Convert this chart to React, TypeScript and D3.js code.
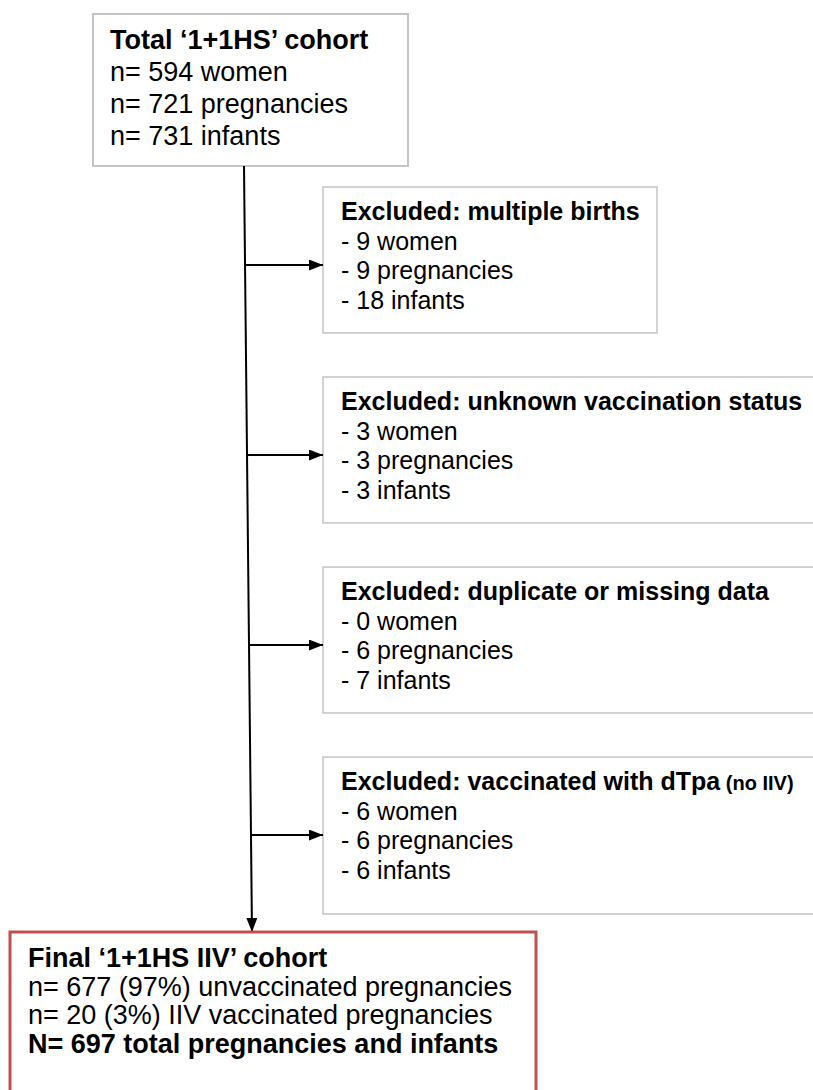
import React from 'react';
// @ts-ignore
import * as d3 from "d3";

// flow chart content
const topTitle = "Total ‘1+1HS’ cohort";
const topWomen = 594;
const topPregnancies = 721;
const topInfants = 731;

const exclusionReasons = ["multiple births", "unknown vaccination status", "duplicate or missing data", "vaccinated with dTpa"];
const exclusionNotes = ["", "", "", "(no IIV)"];
const excludedWomen = [9, 3, 0, 6];
const excludedPregnancies = [9, 3, 6, 6];
const excludedInfants = [18, 3, 7, 6];
const exclusionBoxWidths = [334, 500, 500, 500];

const finalTitle = "Final ‘1+1HS IIV’ cohort";
const finalUnvaccinated = 677;
const finalUnvaccinatedPct = 97;
const finalVaccinated = 20;
const finalVaccinatedPct = 3;
const finalTotal = 697;

class FlowChart extends React.Component {

    private svg: any;

    componentDidMount(): void {
        const width = 813, height = 1090;
        const font = "'Liberation Sans', Arial, Helvetica, sans-serif";

        d3.select("#d3-flow-chart").selectAll("*").remove();

        this.svg = d3.select("#d3-flow-chart")
            .append("svg")
            .attr("width", width)
            .attr("height", height)
            .style("position", "absolute")
            .style("left", "0px")
            .style("top", "0px")
            .attr("font-family", font);

        //arrow head
        this.svg.append("defs").append("marker")
            .attr("id", "arrow")
            .attr("viewBox", "0 0 14 11")
            .attr("markerUnits", "userSpaceOnUse")
            .attr("markerWidth", 14)
            .attr("markerHeight", 11)
            .attr("refX", 14)
            .attr("refY", 5.5)
            .attr("orient", "auto")
            .append("path")
            .attr("d", "M0,0 L14,5.5 L0,11 z")
            .attr("fill", "black");

        //box positions
        const topBox = {x: 93, y: 14, w: 315, h: 152};
        const finalBox = {x: 10, y: 932, w: 526, h: 220};
        const exclX = 323;
        const exclScale = d3.scaleBand()
            .domain(exclusionReasons)
            .range([187, 903])
            .paddingInner(0.232)
            .paddingOuter(0);

        //main trunk, slightly slanted like the original
        const trunkX = d3.scaleLinear()
            .domain([topBox.y + topBox.h, finalBox.y])
            .range([244, 252]);

        //top box
        this.svg.append("rect")
            .attr("x", topBox.x).attr("y", topBox.y)
            .attr("width", topBox.w).attr("height", topBox.h)
            .attr("fill", "white")
            .attr("stroke", "#c4c4c4")
            .attr("stroke-width", 2);

        const topText = this.svg.append("text")
            .attr("x", topBox.x + 17)
            .attr("y", topBox.y + 35)
            .attr("font-size", 27)
            .attr("fill", "black");
        topText.append("tspan").attr("font-weight", "bold").text(topTitle);
        [`n= ${topWomen} women`, `n= ${topPregnancies} pregnancies`, `n= ${topInfants} infants`].forEach((t, i) => {
            topText.append("tspan")
                .attr("x", topBox.x + 17)
                .attr("y", topBox.y + 35 + (i + 1) * 32)
                .text(t);
        });

        //trunk line
        this.svg.append("line")
            .attr("x1", trunkX(topBox.y + topBox.h))
            .attr("y1", topBox.y + topBox.h)
            .attr("x2", trunkX(finalBox.y))
            .attr("y2", finalBox.y)
            .attr("stroke", "black")
            .attr("stroke-width", 2)
            .attr("marker-end", "url(#arrow)");

        //exclusion boxes
        exclusionReasons.forEach((reason, i) => {
            const y0 = exclScale(reason);
            const bh = i === 3 ? exclScale.bandwidth() + 11 : exclScale.bandwidth();

            this.svg.append("rect")
                .attr("x", exclX).attr("y", y0)
                .attr("width", exclusionBoxWidths[i]).attr("height", bh)
                .attr("fill", "white")
                .attr("stroke", "#c4c4c4")
                .attr("stroke-width", 1.5);

            const arrowY = y0 + 78;
            this.svg.append("line")
                .attr("x1", trunkX(arrowY))
                .attr("y1", arrowY)
                .attr("x2", exclX)
                .attr("y2", arrowY)
                .attr("stroke", "black")
                .attr("stroke-width", 2)
                .attr("marker-end", "url(#arrow)");

            const tx = exclX + 18;
            const txt = this.svg.append("text")
                .attr("x", tx)
                .attr("y", y0 + 33)
                .attr("font-size", 25)
                .attr("fill", "black");
            txt.append("tspan").attr("font-weight", "bold").text("Excluded: " + reason);
            if (exclusionNotes[i]) {
                txt.append("tspan")
                    .attr("font-weight", "bold")
                    .attr("font-size", 20)
                    .text(" " + exclusionNotes[i]);
            }
            [`- ${excludedWomen[i]} women`, `- ${excludedPregnancies[i]} pregnancies`, `- ${excludedInfants[i]} infants`].forEach((t, j) => {
                txt.append("tspan")
                    .attr("x", tx)
                    .attr("y", y0 + 33 + (j + 1) * 29.5)
                    .text(t);
            });
        });

        //final box
        this.svg.append("rect")
            .attr("x", finalBox.x).attr("y", finalBox.y)
            .attr("width", finalBox.w).attr("height", finalBox.h)
            .attr("fill", "white")
            .attr("stroke", "#c0504d")
            .attr("stroke-width", 3);

        const fx = finalBox.x + 18;
        const finalText = this.svg.append("text")
            .attr("x", fx)
            .attr("y", finalBox.y + 35)
            .attr("font-size", 27)
            .attr("fill", "black");
        finalText.append("tspan").attr("font-weight", "bold").text(finalTitle);
        const finalLines = [
            {t: `n= ${finalUnvaccinated} (${finalUnvaccinatedPct}%) unvaccinated pregnancies`, bold: false},
            {t: `n= ${finalVaccinated} (${finalVaccinatedPct}%) IIV vaccinated pregnancies`, bold: false},
            {t: `N= ${finalTotal} total pregnancies and infants`, bold: true}
        ];
        finalLines.forEach((l, i) => {
            finalText.append("tspan")
                .attr("x", fx)
                .attr("y", finalBox.y + 35 + (i + 1) * 28.5)
                .attr("font-weight", l.bold ? "bold" : "normal")
                .text(l.t);
        });
    }

    render() {
        return (
            <div id={"d3-flow-chart"}></div>
        );
    }
}

export default function App() {
    return <FlowChart/>;
}
